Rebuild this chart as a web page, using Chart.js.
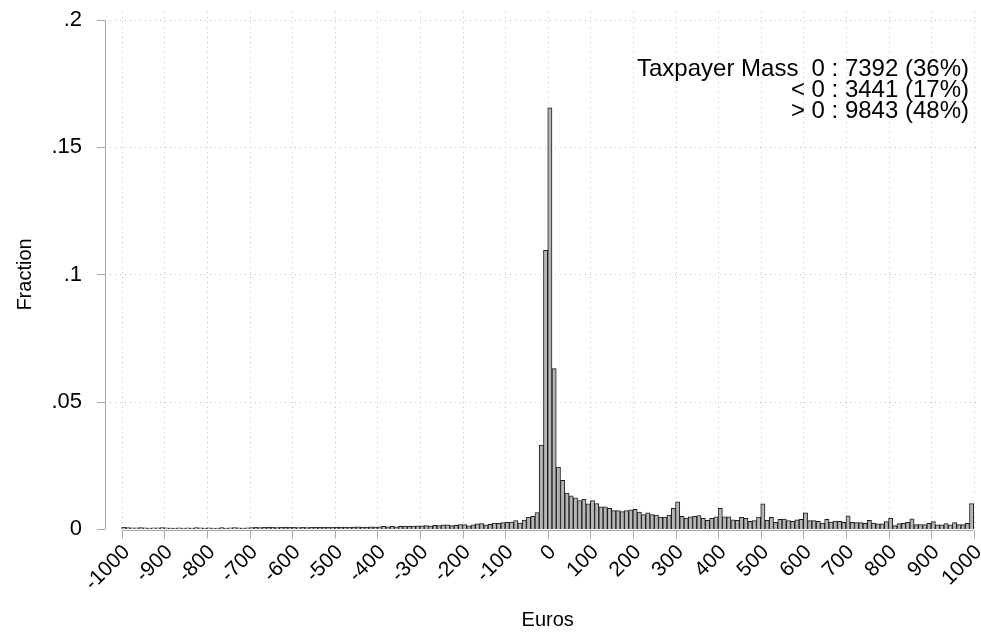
<!DOCTYPE html>
<html><head><meta charset="utf-8">
<script src="https://cdn.jsdelivr.net/npm/chart.js@4"></script>
<style>html,body{margin:0;padding:0;background:#fff;overflow:hidden}#wrap{width:981px;height:633px}</style>
</head><body><div id="wrap"><canvas id="c" width="981" height="633"></canvas></div>
<script>
// ---- data ----
const binStart = -1000;
const binWidth = 10;
// fraction per 10-euro bin, from -1000 to -10
const fractionNeg = [
  0.0007,0.0006,0.0005,0.0005,0.0006,0.0005,0.0004,0.0005,0.0005,0.0006,
  0.0005,0.0004,0.0004,0.0005,0.0004,0.0005,0.0004,0.0006,0.0005,0.0004,
  0.0005,0.0004,0.0004,0.0006,0.0004,0.0005,0.0006,0.0005,0.0004,0.0005,
  0.0006,0.0007,0.0006,0.0007,0.0008,0.0007,0.0006,0.0007,0.0008,0.0007,
  0.0007,0.0006,0.0007,0.0006,0.0007,0.0008,0.0007,0.0007,0.0008,0.0007,
  0.0008,0.0007,0.0008,0.0007,0.0008,0.0009,0.0008,0.0007,0.0009,0.0008,
  0.0009,0.0010,0.0009,0.0010,0.0009,0.0010,0.0011,0.0010,0.0011,0.0012,
  0.0012,0.0013,0.0011,0.0014,0.0013,0.0016,0.0016,0.0013,0.0014,0.0017,
  0.0017,0.0012,0.0016,0.0020,0.0021,0.0016,0.0018,0.0023,0.0022,0.0025,
  0.0026,0.0027,0.0033,0.0023,0.0035,0.0046,0.0050,0.0065,0.0330,0.1095
];
// fraction per 10-euro bin, from 0 to 1000
const fractionPos = [
  0.1655,0.0630,0.0243,0.0191,0.0141,0.0130,0.0122,0.0112,0.0117,0.0099,
  0.0112,0.0100,0.0087,0.0087,0.0081,0.0072,0.0072,0.0068,0.0072,0.0075,
  0.0077,0.0066,0.0057,0.0064,0.0057,0.0055,0.0047,0.0047,0.0055,0.0081,
  0.0107,0.0050,0.0043,0.0048,0.0050,0.0053,0.0042,0.0034,0.0042,0.0048,
  0.0081,0.0048,0.0048,0.0036,0.0034,0.0046,0.0042,0.0030,0.0033,0.0047,
  0.0099,0.0034,0.0046,0.0026,0.0038,0.0039,0.0033,0.0030,0.0036,0.0038,
  0.0064,0.0033,0.0033,0.0030,0.0023,0.0038,0.0027,0.0031,0.0030,0.0026,
  0.0052,0.0026,0.0025,0.0025,0.0022,0.0034,0.0023,0.0020,0.0020,0.0029,
  0.0043,0.0013,0.0021,0.0022,0.0026,0.0040,0.0017,0.0017,0.0017,0.0022,
  0.0029,0.0016,0.0016,0.0021,0.0016,0.0025,0.0017,0.0017,0.0022,0.0100
];
const xTickValues = [-1000,-900,-800,-700,-600,-500,-400,-300,-200,-100,0,100,200,300,400,500,600,700,800,900,1000];
const xTickLabels = ["-1000","-900","-800","-700","-600","-500","-400","-300","-200","-100","0","100","200","300","400","500","600","700","800","900","1000"];
const yTickValues = [0,0.05,0.1,0.15,0.2];
const yTickLabels = ["0",".05",".1",".15",".2"];
const xTitle = "Euros";
const yTitle = "Fraction";
const massLabel = "Taxpayer Mass";
const massLines = ["0 : 7392 (36%)","< 0 : 3441 (17%)","> 0 : 9843 (48%)"];

// ---- build ----
const values = fractionNeg.concat(fractionPos);
const points = values.map((v, i) => ({ x: binStart + binWidth * (i + 0.5), y: v }));
const FONT = "'Liberation Sans', Arial, Helvetica, sans-serif";

const decor = {
  id: 'decor',
  beforeDatasetsDraw(chart) {
    const ctx = chart.ctx, a = chart.chartArea, xs = chart.scales.x, ys = chart.scales.y;
    ctx.save();
    ctx.strokeStyle = '#c2c2c2';
    ctx.lineWidth = 1;
    ctx.setLineDash([1, 4]);
    xTickValues.forEach(v => {
      const px = Math.round(xs.getPixelForValue(v)) + 0.5;
      ctx.beginPath(); ctx.moveTo(px, a.top); ctx.lineTo(px, a.bottom); ctx.stroke();
    });
    yTickValues.forEach(v => {
      if (v === 0) return;
      const py = Math.round(ys.getPixelForValue(v)) + 0.5;
      ctx.beginPath(); ctx.moveTo(a.left, py); ctx.lineTo(a.right, py); ctx.stroke();
    });
    ctx.restore();
  },
  afterDraw(chart) {
    const ctx = chart.ctx, xs = chart.scales.x, ys = chart.scales.y;
    ctx.save();
    ctx.strokeStyle = '#a8a8a8';
    ctx.lineWidth = 1;
    // y axis
    const ax = 105.5;
    const y0 = ys.getPixelForValue(0), y1 = ys.getPixelForValue(0.2);
    ctx.beginPath(); ctx.moveTo(ax, y0); ctx.lineTo(ax, y1); ctx.stroke();
    yTickValues.forEach(v => {
      const py = Math.round(ys.getPixelForValue(v)) + 0.5;
      ctx.beginPath(); ctx.moveTo(97, py); ctx.lineTo(ax, py); ctx.stroke();
    });
    // x axis
    const ay = Math.round(y0) + 1.5;
    ctx.beginPath(); ctx.moveTo(xs.getPixelForValue(-1000), ay); ctx.lineTo(xs.getPixelForValue(1000), ay); ctx.stroke();
    xTickValues.forEach(v => {
      const px = Math.round(xs.getPixelForValue(v)) + 0.5;
      ctx.beginPath(); ctx.moveTo(px, ay); ctx.lineTo(px, ay + 8); ctx.stroke();
    });
    // titles
    ctx.fillStyle = '#000';
    ctx.font = '20px ' + FONT;
    ctx.textAlign = 'center';
    ctx.textBaseline = 'middle';
    ctx.fillText(xTitle, (xs.getPixelForValue(-1000) + xs.getPixelForValue(1000)) / 2, 620);
    ctx.save();
    ctx.translate(25, (y0 + y1) / 2);
    ctx.rotate(-Math.PI / 2);
    ctx.fillText(yTitle, 0, 0);
    ctx.restore();
    // annotation
    ctx.font = '24px ' + FONT;
    ctx.textBaseline = 'alphabetic';
    ctx.textAlign = 'right';
    const rx = 969;
    massLines.forEach((t, i) => ctx.fillText(t, rx, 76 + i * 21));
    ctx.textAlign = 'left';
    ctx.fillText(massLabel, 637, 76);
    ctx.restore();
  }
};

new Chart(document.getElementById('c'), {
  type: 'bar',
  data: { datasets: [{
    data: points,
    backgroundColor: '#b5b5b5',
    borderColor: '#1c1c1c',
    borderWidth: 1,
    barPercentage: 1,
    categoryPercentage: 1
  }] },
  options: {
    responsive: false,
    animation: false,
    devicePixelRatio: 1,
    layout: { padding: { top: 12, right: 3, left: 0, bottom: 0 } },
    plugins: { legend: { display: false }, tooltip: { enabled: false } },
    scales: {
      x: {
        type: 'linear', min: -1027.5, max: 1010, offset: false,
        afterBuildTicks: s => { s.ticks = xTickValues.map(v => ({ value: v })); },
        afterFit: s => { s.height = 104; s.paddingLeft = 0; s.paddingRight = 0; },
        grid: { display: false },
        border: { display: false },
        ticks: {
          autoSkip: false, maxRotation: 45, minRotation: 45, padding: 3, labelOffset: 5, color: '#000',
          font: { family: FONT, size: 21 },
          callback: (v, i) => xTickLabels[i]
        }
      },
      y: {
        min: 0, max: 0.20314,
        afterBuildTicks: s => { s.ticks = yTickValues.map(v => ({ value: v })); },
        afterFit: s => { s.width = 110; s.paddingTop = 0; s.paddingBottom = 0; },
        grid: { display: false },
        border: { display: false },
        ticks: {
          padding: 20, color: '#000',
          font: { family: FONT, size: 22 },
          callback: (v, i) => yTickLabels[i]
        }
      }
    }
  },
  plugins: [decor]
});
</script></body></html>
